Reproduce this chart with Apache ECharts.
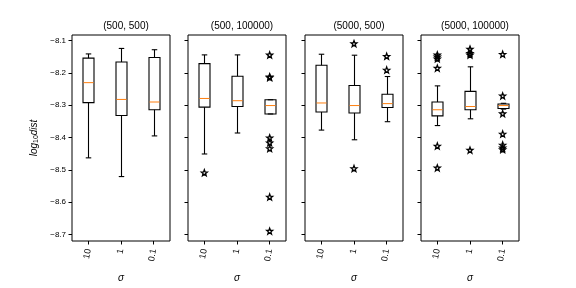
<!DOCTYPE html>
<html><head><meta charset="utf-8">
<script src="https://cdn.jsdelivr.net/npm/echarts@6/dist/echarts.min.js"></script>
<style>html,body{margin:0;padding:0;background:#fff}#c{width:576px;height:288px}</style>
</head><body><div id="c"></div>
<script>
const categories = ['10', '1', '0.1'];
const panelTitles = ['(500, 500)', '(500, 100000)', '(5000, 500)', '(5000, 100000)'];
const yTicks = [-8.7, -8.6, -8.5, -8.4, -8.3, -8.2, -8.1];
// each row: [lower whisker, Q1, median, Q3, upper whisker] for sigma = 10, 1, 0.1
const box500_500 = [[-8.463, -8.292, -8.230, -8.154, -8.141], [-8.521, -8.332, -8.282, -8.166, -8.124], [-8.395, -8.314, -8.290, -8.152, -8.128]];
const box500_100000 = [[-8.451, -8.306, -8.279, -8.171, -8.144], [-8.386, -8.304, -8.286, -8.210, -8.144], [-8.327, -8.327, -8.301, -8.283, -8.283]];
const box5000_500 = [[-8.377, -8.321, -8.293, -8.176, -8.142], [-8.407, -8.324, -8.301, -8.239, -8.145], [-8.351, -8.307, -8.295, -8.266, -8.211]];
const box5000_100000 = [[-8.363, -8.333, -8.314, -8.290, -8.240], [-8.342, -8.314, -8.304, -8.257, -8.181], [-8.312, -8.310, -8.301, -8.296, -8.294]];
// outliers: [category index, value]
const out500_500 = [];
const out500_100000 = [[0, -8.509], [2, -8.144], [2, -8.212], [2, -8.214], [2, -8.401], [2, -8.416], [2, -8.434], [2, -8.584], [2, -8.690]];
const out5000_500 = [[1, -8.109], [1, -8.496], [2, -8.148], [2, -8.191]];
const out5000_100000 = [[0, -8.144], [0, -8.150], [0, -8.156], [0, -8.185], [0, -8.426], [0, -8.494], [1, -8.126], [1, -8.139], [1, -8.144], [1, -8.439], [2, -8.142], [2, -8.271], [2, -8.326], [2, -8.389], [2, -8.423], [2, -8.432], [2, -8.437]];

const boxes = [box500_500, box500_100000, box5000_500, box5000_100000];
const outs = [out500_500, out500_100000, out5000_500, out5000_100000];

const FONT = 'Liberation Sans';
const panelLeft = [72, 188, 305, 421];
const panelW = 98, gridTop = 35, gridH = 217;

// star symbol
let sp = 'path://';
for (let i = 0; i < 10; i++) {
  const r = i % 2 === 0 ? 10 : 4.2;
  const a = -Math.PI / 2 + i * Math.PI / 5;
  sp += (i === 0 ? 'M' : 'L') + (10 + r * Math.cos(a)).toFixed(2) + ',' + (10 + r * Math.sin(a)).toFixed(2);
}
sp += 'Z';

function renderBox(params, api) {
  const x = api.value(0);
  const lo = api.coord([x, api.value(1)]);
  const q1 = api.coord([x, api.value(2)]);
  const md = api.coord([x, api.value(3)]);
  const q3 = api.coord([x, api.value(4)]);
  const hi = api.coord([x, api.value(5)]);
  const cx = Math.round(lo[0]) + 0.5, hw = 5.5, cw = 2.75;
  const ls = {stroke: '#000', lineWidth: 1.1};
  return {type: 'group', children: [
    {type: 'line', shape: {x1: cx, y1: q1[1], x2: cx, y2: lo[1]}, style: ls},
    {type: 'line', shape: {x1: cx, y1: q3[1], x2: cx, y2: hi[1]}, style: ls},
    {type: 'line', shape: {x1: cx - cw, y1: lo[1], x2: cx + cw, y2: lo[1]}, style: ls},
    {type: 'line', shape: {x1: cx - cw, y1: hi[1], x2: cx + cw, y2: hi[1]}, style: ls},
    {type: 'rect', shape: {x: cx - hw, y: q3[1], width: 2 * hw, height: q1[1] - q3[1]}, style: {fill: 'none', stroke: '#000', lineWidth: 1.1}},
    {type: 'line', shape: {x1: cx - hw + 0.5, y1: md[1], x2: cx + hw - 0.5, y2: md[1]}, style: {stroke: '#ff7f0e', lineWidth: 1}}
  ]};
}

const grid = [], xAxis = [], yAxis = [], series = [], title = [];
for (let p = 0; p < 4; p++) {
  grid.push({left: panelLeft[p], top: gridTop, width: panelW, height: gridH, show: true, borderColor: '#000', borderWidth: 1, backgroundColor: 'transparent'});
  title.push({text: panelTitles[p], left: panelLeft[p] + panelW / 2, top: 16, textAlign: 'center',
    textStyle: {fontFamily: FONT, fontSize: 10, fontWeight: 'normal', color: '#000'}});
  xAxis.push({type: 'category', gridIndex: p, data: categories, boundaryGap: true,
    axisLine: {show: false}, axisTick: {show: true, alignWithLabel: true, length: 3.5, lineStyle: {color: '#000'}},
    axisLabel: {rotate: 80, fontFamily: FONT, fontSize: 9, color: '#000', margin: 8},
    name: 'σ', nameLocation: 'middle', nameGap: 32,
    nameTextStyle: {fontFamily: FONT, fontSize: 10, fontStyle: 'italic', color: '#000'},
    splitLine: {show: false}});
  const ya = {type: 'value', gridIndex: p, min: -8.7206, max: -8.0824,
    axisLine: {show: false},
    axisTick: {show: true, length: 3.5, customValues: yTicks, lineStyle: {color: '#000'}},
    axisLabel: {show: p === 0, customValues: yTicks, fontFamily: FONT, fontSize: 8, color: '#000', margin: 6,
      formatter: v => v.toFixed(1).replace('-', '−')},
    splitLine: {show: false}};
  if (p === 0) {
    ya.name = '{i|log}{s|10}{i|dist}';
    ya.nameLocation = 'middle';
    ya.nameRotate = 90;
    ya.nameGap = 32;
    ya.nameTextStyle = {rich: {
      i: {fontFamily: FONT, fontSize: 10, fontStyle: 'italic', color: '#000'},
      s: {fontFamily: FONT, fontSize: 7, color: '#000', verticalAlign: 'bottom', padding: [4, 0, 0, 0]}
    }};
  }
  yAxis.push(ya);
  series.push({type: 'custom', xAxisIndex: p, yAxisIndex: p, renderItem: renderBox,
    data: boxes[p].map((b, i) => [i].concat(b)), silent: true});
  series.push({type: 'scatter', xAxisIndex: p, yAxisIndex: p, symbol: sp, symbolSize: 6,
    itemStyle: {color: 'rgba(0,0,0,0)', borderColor: '#000', borderWidth: 1.3, opacity: 1},
    data: outs[p], silent: true});
}

const chart = echarts.init(document.getElementById('c'), null, {renderer: 'canvas'});
chart.setOption({animation: false, backgroundColor: '#fff', title, grid, xAxis, yAxis, series});
</script></body></html>
